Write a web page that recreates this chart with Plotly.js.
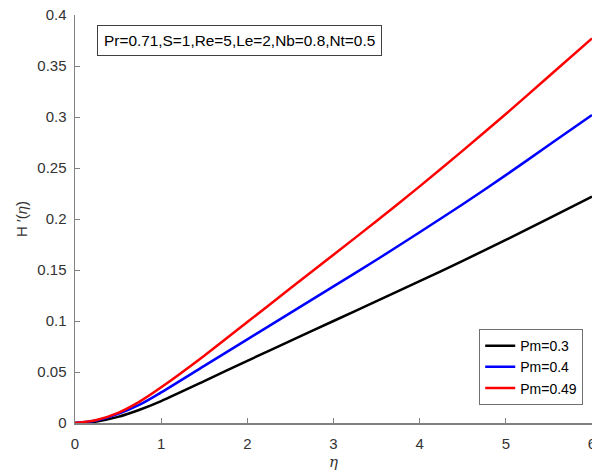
<!DOCTYPE html>
<html>
<head>
<meta charset="utf-8">
<script src="https://cdn.plot.ly/plotly-3.0.1.min.js"></script>
<style>
  html, body { margin: 0; padding: 0; background: #fff; }
  #chart { width: 592px; height: 474px; }
</style>
</head>
<body>
<div id="chart"></div>
<script>
// Similarity variable eta
const eta = [0, 0.25, 0.5, 0.75, 1, 1.5, 2, 2.5, 3, 3.5, 4, 4.5, 5, 5.5, 6];

// H'(eta) profiles for three values of Pm
const hPm030 = [0, 0.0015, 0.006, 0.013, 0.0215, 0.041, 0.061, 0.0805, 0.100, 0.1195, 0.139, 0.159, 0.1795, 0.2005, 0.222];
const hPm040 = [0, 0.0025, 0.009, 0.018, 0.030, 0.056, 0.082, 0.108, 0.134, 0.160, 0.187, 0.2145, 0.243, 0.2725, 0.302];
const hPm049 = [0, 0.003, 0.010, 0.021, 0.035, 0.066, 0.099, 0.132, 0.165, 0.198, 0.232, 0.267, 0.303, 0.340, 0.377];

const seriesNames = ['Pm=0.3', 'Pm=0.4', 'Pm=0.49'];
const seriesColors = ['#000000', '#0000ff', '#ff0000'];
const seriesValues = [hPm030, hPm040, hPm049];

const xTicks = [0, 1, 2, 3, 4, 5, 6];
const yTicks = [0, 0.05, 0.1, 0.15, 0.2, 0.25, 0.3, 0.35, 0.4];
const yTickText = ['0', '0.05', '0.1', '0.15', '0.2', '0.25', '0.3', '0.35', '0.4'];

const paramText = 'Pr=0.71,S=1,Re=5,Le=2,Nb=0.8,Nt=0.5';

const traces = seriesValues.map((vals, i) => ({
  x: eta,
  y: vals,
  type: 'scatter',
  mode: 'lines',
  name: seriesNames[i],
  line: { color: seriesColors[i], width: 2.5, shape: 'spline', smoothing: 0.8 }
}));

const font = 'Liberation Sans, Arial, sans-serif';
const axisColor = '#808080';

const layout = {
  width: 592,
  height: 474,
  margin: { l: 75, r: 0, t: 15, b: 51 },
  paper_bgcolor: '#ffffff',
  plot_bgcolor: '#ffffff',
  font: { family: font, size: 15, color: '#333333' },
  showlegend: true,
  xaxis: {
    range: [0, 6],
    tickvals: xTicks,
    ticktext: xTicks.map(String),
    ticks: 'inside',
    ticklen: 5,
    tickwidth: 1,
    tickcolor: axisColor,
    showline: true,
    linecolor: axisColor,
    linewidth: 1.5,
    showgrid: false,
    zeroline: false,
    ticklabelstandoff: 6,
    ticklabeloverflow: 'allow',
    tickfont: { family: font, size: 15, color: '#333333' },
    title: { text: '<i>η</i>', font: { family: 'DejaVu Serif, serif', size: 15, color: '#333333' }, standoff: 6 },
    automargin: false
  },
  yaxis: {
    range: [0, 0.4],
    tickvals: yTicks,
    ticktext: yTickText,
    ticks: 'inside',
    ticklen: 5,
    tickwidth: 1,
    tickcolor: axisColor,
    showline: true,
    linecolor: axisColor,
    linewidth: 1.5,
    showgrid: false,
    zeroline: false,
    ticklabelstandoff: 4,
    tickfont: { family: font, size: 15, color: '#333333' },
    title: { text: 'H ′(<i>η</i>)', font: { family: font, size: 15, color: '#333333' }, standoff: 6 },
    automargin: false
  },
  legend: {
    x: 0.983,
    y: 0.044,
    xanchor: 'right',
    yanchor: 'bottom',
    bgcolor: '#ffffff',
    bordercolor: '#707070',
    borderwidth: 1,
    font: { family: font, size: 14, color: '#000000' },
    tracegroupgap: 0
  },
  annotations: [{
    xref: 'paper',
    yref: 'paper',
    x: 0.0426,
    y: 0.9755,
    xanchor: 'left',
    yanchor: 'top',
    text: paramText,
    showarrow: false,
    font: { family: font, size: 15.4, color: '#000000' },
    bgcolor: '#ffffff',
    bordercolor: '#404040',
    borderwidth: 1,
    borderpad: 6
  }]
};

Plotly.newPlot('chart', traces, layout, { displayModeBar: false, staticPlot: true });
</script>
</body>
</html>
